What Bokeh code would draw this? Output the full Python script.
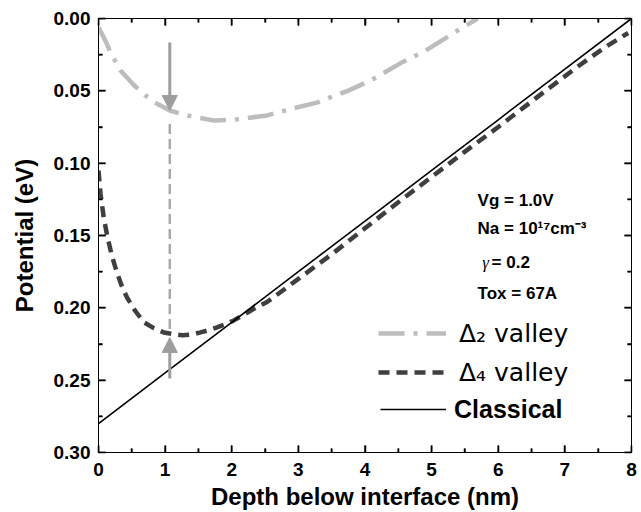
from bokeh.plotting import figure
from bokeh.models import (Range1d, LinearAxis, FixedTicker, NumeralTickFormatter,
                          Legend, LegendItem, Label, Arrow, NormalHead)
from bokeh.embed import file_html
from bokeh.resources import INLINE

# ---- data ----
classical_x = [0, 1, 2, 3, 4, 5, 6, 7, 8]
classical_y = [0.280, 0.245, 0.210, 0.175, 0.140, 0.105, 0.070, 0.035, 0.000]

delta4_x = [0, 0.03, 0.08, 0.13, 0.2, 0.28, 0.35, 0.43, 0.55, 0.68, 0.83, 0.98, 1.1,
            1.26, 1.4, 1.53, 1.65, 1.78, 1.9, 2.03, 2.3, 2.53, 3, 3.5, 4, 4.5, 5.03,
            5.5, 6, 6.68, 7.2, 7.6, 7.95]
delta4_y = [0.105, 0.121, 0.138, 0.150, 0.164, 0.176, 0.185, 0.193, 0.202, 0.210, 0.214,
            0.217, 0.218, 0.219, 0.2185, 0.217, 0.2155, 0.2135, 0.2115, 0.2087, 0.2015,
            0.196, 0.180, 0.163, 0.145, 0.127, 0.1085, 0.092, 0.075, 0.051, 0.033,
            0.020, 0.010]

delta2_x = [0, 0.1, 0.18, 0.33, 0.53, 0.7, 0.88, 1.07, 1.33, 1.73, 2.03, 2.53, 2.93,
            3.29, 3.48, 3.74, 4.08, 4.53, 4.88, 5.09, 5.33, 5.69]
delta2_y = [0.006, 0.015, 0.0235, 0.036, 0.046, 0.053, 0.059, 0.0636, 0.067, 0.0705,
            0.070, 0.067, 0.062, 0.058, 0.0545, 0.050, 0.043, 0.031, 0.023, 0.017,
            0.010, 0.0]

x_ticks = [0, 1, 2, 3, 4, 5, 6, 7, 8]
y_ticks = [0.00, 0.05, 0.10, 0.15, 0.20, 0.25, 0.30]
x_minor = [0.5, 1.5, 2.5, 3.5, 4.5, 5.5, 6.5, 7.5]
y_minor = [0.025, 0.075, 0.125, 0.175, 0.225, 0.275]

FONT = "Liberation Sans"
X0, X1 = 0, 8
Y_BOTTOM, Y_TOP = 0.30, 0.0
W, H = 641, 512
BL, BR, BT, BB = 98, 10, 18, 60

p = figure(width=W, height=H, output_backend="svg", toolbar_location=None,
           x_range=Range1d(X0, X1), y_range=Range1d(Y_BOTTOM, Y_TOP),
           min_border_left=BL, min_border_right=BR, min_border_top=BT,
           min_border_bottom=BB, background_fill_color="white",
           border_fill_color="white", outline_line_color="black")
p.xgrid.visible = False
p.ygrid.visible = False

xt = FixedTicker(ticks=x_ticks, minor_ticks=x_minor)
yt = FixedTicker(ticks=y_ticks, minor_ticks=y_minor)

def style_axis(ax, ticker, labels=True):
    ax.ticker = ticker
    ax.major_tick_in = 7
    ax.major_tick_out = 0
    ax.minor_tick_in = 4
    ax.minor_tick_out = 0
    ax.axis_line_color = "black"
    ax.major_tick_line_color = "black"
    ax.minor_tick_line_color = "black"
    ax.major_tick_line_width = 1.5
    ax.minor_tick_line_width = 1.5
    ax.major_label_text_font = FONT
    ax.major_label_text_font_style = "bold"
    ax.major_label_text_font_size = "19px"
    ax.major_label_text_color = "black" if labels else None
    ax.axis_label_text_font = FONT
    ax.axis_label_text_font_style = "bold"
    ax.axis_label_text_font_size = "24px"
    ax.axis_label_text_color = "black"

style_axis(p.xaxis[0], xt)
style_axis(p.yaxis[0], yt)
p.xaxis[0].formatter = NumeralTickFormatter(format="0")
p.yaxis[0].formatter = NumeralTickFormatter(format="0.00")
p.xaxis[0].axis_label = "Depth below interface (nm)"
p.yaxis[0].axis_label = "Potential (eV)"
p.xaxis[0].major_label_standoff = 10
p.xaxis[0].axis_label_standoff = 4
p.yaxis[0].major_label_standoff = 8
p.yaxis[0].axis_label_standoff = 13

top = LinearAxis()
style_axis(top, xt, labels=False)
top.major_label_text_font_size = "0px"
right = LinearAxis()
style_axis(right, yt, labels=False)
right.major_label_text_font_size = "0px"
p.add_layout(top, "above")
p.add_layout(right, "right")

# ---- inward ticks on all four sides (broken lines, NaN-separated) ----
frame_w = W - BL - BR
frame_h = H - BT - BB
dx_px = (X1 - X0) / frame_w
dy_px = (Y_BOTTOM - Y_TOP) / frame_h
NAN = float("nan")

tx, ty = [], []
for vals, length in ((x_ticks, 7), (x_minor, 4)):
    L = length * dy_px
    for v in vals:
        tx += [v, v, NAN, v, v, NAN]
        ty += [Y_BOTTOM, Y_BOTTOM - L, NAN, Y_TOP, Y_TOP + L, NAN]
for vals, length in ((y_ticks, 7), (y_minor, 4)):
    L = length * dx_px
    for v in vals:
        tx += [X0, X0 + L, NAN, X1, X1 - L, NAN]
        ty += [v, v, NAN, v, v, NAN]
p.line(tx, ty, line_color="black", line_width=1.5)

# ---- curves ----
r2 = p.line(delta2_x, delta2_y, line_color="#BDBDBD", line_width=4.5,
            line_dash="26 9 4 9")
r4 = p.line(delta4_x, delta4_y, line_color="#3F3F3F", line_width=4.5,
            line_dash="11 7")
rc = p.line(classical_x, classical_y, line_color="black", line_width=1.6)

# ---- arrows ----
arrow_x = 1.07
p.line([arrow_x, arrow_x], [0.073, 0.218], line_color="#A8A8A8", line_width=2.5,
       line_dash="10 5")
p.add_layout(Arrow(x_start=arrow_x, y_start=0.0166, x_end=arrow_x, y_end=0.0636,
                   line_color="#9E9E9E", line_width=3,
                   end=NormalHead(size=15, fill_color="#9E9E9E", line_color="#9E9E9E")))
p.add_layout(Arrow(x_start=arrow_x, y_start=0.2488, x_end=arrow_x, y_end=0.2205,
                   line_color="#9E9E9E", line_width=3,
                   end=NormalHead(size=15, fill_color="#9E9E9E", line_color="#9E9E9E")))

# ---- text block ----
def lbl(x, y, text, size="17px", font=FONT, style="bold"):
    p.add_layout(Label(x=x, y=y, text=text, text_font=font, text_font_style=style,
                       text_font_size=size, text_baseline="middle", text_align="left",
                       text_color="black"))

lbl(5.69, 0.1258, "Vg = 1.0V")
lbl(5.69, 0.1450, "Na = 10\u00b9\u2077cm\u207b\u00b3")
lbl(5.76, 0.1686, "\u03b3", size="17px", font="Liberation Serif", style="italic")
lbl(5.90, 0.1686, "= 0.2")
lbl(5.69, 0.1900, "Tox = 67A")

# ---- legends ----
leg1 = Legend(items=[LegendItem(label="\u0394\u2082 valley", renderers=[r2]),
                     LegendItem(label="\u0394\u2084 valley", renderers=[r4])],
              location=(280, 65), orientation="vertical",
              glyph_width=68, glyph_height=30, label_height=30, spacing=9,
              label_standoff=13, padding=0, margin=0,
              border_line_color=None, background_fill_alpha=0,
              label_text_font="DejaVu Sans", label_text_font_size="25px",
              label_text_color="black")
leg2 = Legend(items=[LegendItem(label="Classical", renderers=[rc])],
              location=(282, 28), glyph_width=66, glyph_height=30, label_height=30,
              label_standoff=8, padding=0, margin=0,
              border_line_color=None, background_fill_alpha=0,
              label_text_font=FONT, label_text_font_style="bold",
              label_text_font_size="25px", label_text_color="black")
p.add_layout(leg1)
p.add_layout(leg2)

open("out.html", "w").write(file_html(p, INLINE))
